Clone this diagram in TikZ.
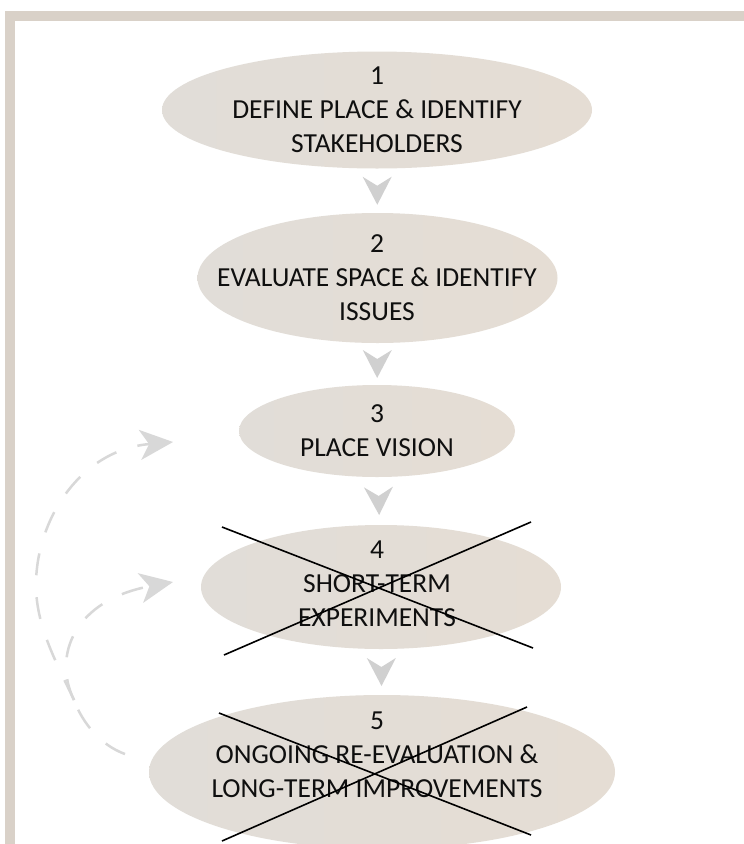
\documentclass[tikz,border=0pt]{standalone}
\usepackage{fontspec}
\setmainfont{Carlito}
\usetikzlibrary{arrows.meta,decorations.markings,shapes.geometric,calc}
\definecolor{framecol}{RGB}{217,209,200}
\definecolor{ellleft}{RGB}{225,221,216}
\definecolor{ellright}{RGB}{229,221,212}
\definecolor{chevcol}{RGB}{208,208,208}
\definecolor{dashcol}{RGB}{216,216,216}
\definecolor{txtcol}{RGB}{15,15,15}
\begin{document}
\begin{tikzpicture}[x=1pt,y=1pt,
  ell/.style={ellipse, left color=ellleft, right color=ellright, draw=none, inner sep=0pt},
  lbl/.style={align=center, text=txtcol, font=\fontsize{27.5}{34}\selectfont, inner sep=0pt},
  chev/.style={decoration={markings, mark=at position 0.5 with {\fill[chevcol] (14pt,0pt) -- (-14pt,14.5pt) -- (-5pt,0pt) -- (-14pt,-14.5pt) -- cycle;}}, postaction={decorate}},
  back/.style={dashcol, line width=2.5pt, dash pattern=on 22pt off 22pt, line cap=butt},
  backtip/.style={-{Stealth[length=33pt,width=30pt,inset=9pt]}},
  xline/.style={black, line width=1.6pt}]
\useasboundingbox (0,0) rectangle (744,-844);
% frame
\fill[white] (0,0) rectangle (744,-844);
\fill[framecol] (5,-11) rectangle (744,-21);
\fill[framecol] (5,-11) rectangle (15,-844);
% ellipses
\node[ell, minimum width=430pt, minimum height=117pt] (e1) at (377,-110) {};
\node[ell, minimum width=360pt, minimum height=130pt] (e2) at (377.5,-278) {};
\node[ell, minimum width=276pt, minimum height=92pt] (e3) at (377,-431) {};
\node[ell, minimum width=360pt, minimum height=124pt] (e4) at (381,-587) {};
\node[ell, minimum width=466pt, minimum height=154pt] (e5) at (382,-772) {};
% labels
\node[lbl] (t1) at (377,-109.5) {1\\DEFINE PLACE \& IDENTIFY\\STAKEHOLDERS};
\node[lbl] (t2) at (377,-278) {2\\EVALUATE SPACE \& IDENTIFY\\ISSUES};
\node[lbl] (t3) at (377,-430.5) {3\\PLACE VISION};
\node[lbl] (t4) at (377,-584) {4\\SHORT-TERM\\EXPERIMENTS};
\node[lbl] (t5) at (377,-754.5) {5\\ONGOING RE-EVALUATION \&\\LONG-TERM IMPROVEMENTS};
% chevrons
\path[chev] (e1) -- (e2);
\path[chev] (e2) -- (e3);
\path[chev] (e3) -- (e4);
\path[chev] (e4) -- (e5);
% dashed feedback arrows
\coordinate (s) at (125,-754);
\coordinate (m) at (74,-700);
\coordinate (a3) at (173,-442);
\coordinate (a4) at (173,-582);
\draw[back] (s) .. controls (100,-745) and (82,-722) .. (m);
\draw[back, backtip] (m) .. controls (55,-660) and (36,-625) .. (36,-585) .. controls (36,-520) and (80,-450) .. (a3);
\draw[back, backtip] (m) .. controls (52,-655) and (75,-600) .. (a4);
% crosses
\draw[xline] (222,-527) -- (533,-648);
\draw[xline] (224,-655) -- (531,-522);
\draw[xline] (219,-713) -- (531,-835);
\draw[xline] (222,-841) -- (527,-707);
\end{tikzpicture}
\end{document}
